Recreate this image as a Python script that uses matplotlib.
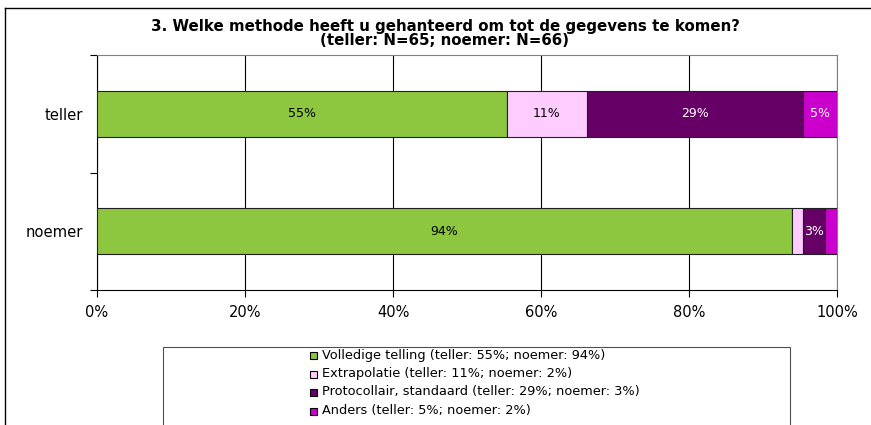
import matplotlib
matplotlib.use("Agg")
import matplotlib.pyplot as plt
from matplotlib.patches import Rectangle
from matplotlib.lines import Line2D

plt.rcParams['font.family'] = ['DejaVu Sans']

categories = ["teller", "noemer"]
series_names = ["Volledige telling", "Extrapolatie", "Protocollair, standaard", "Anders"]
teller_vals = [55.4, 10.8, 29.2, 4.6]
noemer_vals = [93.9, 1.5, 3.0, 1.6]
bar_labels_teller = ["55%", "11%", "29%", "5%"]
bar_labels_noemer = ["94%", "", "3%", ""]
legend_labels = [
    "Volledige telling (teller: 55%; noemer: 94%)",
    "Extrapolatie (teller: 11%; noemer: 2%)",
    "Protocollair, standaard (teller: 29%; noemer: 3%)",
    "Anders (teller: 5%; noemer: 2%)",
]
x_ticks = [0, 20, 40, 60, 80, 100]
x_tick_labels = ["0%", "20%", "40%", "60%", "80%", "100%"]
title_lines = ["3. Welke methode heeft u gehanteerd om tot de gegevens te komen?",
               "(teller: N=65; noemer: N=66)"]

colors = ["#8DC63F", "#FFCCFF", "#660066", "#CC00CC"]
label_colors = ["black", "black", "white", "white"]

W, H = 871, 425
fig = plt.figure(figsize=(W / 100, H / 100), dpi=100)
ax = fig.add_axes([97 / W, 1 - 290 / H, 740 / W, 235 / H])

ypos = [1.5, 0.5]
data = [teller_vals, noemer_vals]
labels = [bar_labels_teller, bar_labels_noemer]
for yi, vals, labs in zip(ypos, data, labels):
    left = 0
    for j, v in enumerate(vals):
        ax.barh(yi, v, left=left, height=0.39, color=colors[j], edgecolor="#202020", linewidth=0.8, zorder=3)
        if labs[j]:
            ax.text(left + v / 2, yi, labs[j], ha="center", va="center", fontsize=9,
                    color=label_colors[j], zorder=4)
        left += v

ax.set_xlim(0, 100)
ax.set_ylim(0, 2)
ax.set_xticks(x_ticks)
ax.set_xticklabels(x_tick_labels, fontsize=10.5)
ax.xaxis.grid(True, color="black", linewidth=0.8, zorder=0)
ax.set_yticks([0, 1, 2])
ax.set_yticklabels([])
ax.set_yticks(ypos, minor=True)
ax.set_yticklabels(categories, minor=True, fontsize=10.6)
ax.tick_params(axis="y", which="minor", length=0, pad=10)
ax.tick_params(axis="y", which="major", length=5, width=0.8, direction="out")
ax.tick_params(axis="x", length=5, width=0.8, direction="out", pad=6)
for s in ["left", "bottom"]:
    ax.spines[s].set_color("black")
    ax.spines[s].set_linewidth(0.8)
for s in ["top", "right"]:
    ax.spines[s].set_color("#808080")
    ax.spines[s].set_linewidth(0.8)
ax.set_axisbelow(True)

fig.text(445 / W, 1 - 27 / H, title_lines[0], ha="center", va="center", fontsize=10.8, fontweight="bold")
fig.text(445 / W, 1 - 40.5 / H, title_lines[1], ha="center", va="center", fontsize=10.8, fontweight="bold")

# outer chart frame
fig.add_artist(Line2D([5 / W, 5 / W], [0, 1 - 8 / H], transform=fig.transFigure, color="black", linewidth=1))
fig.add_artist(Line2D([5 / W, 1], [1 - 8 / H, 1 - 8 / H], transform=fig.transFigure, color="black", linewidth=1))

# legend box
fig.add_artist(Rectangle((163 / W, -0.05), (790 - 163) / W, 0.05 + (425 - 347) / H,
                         transform=fig.transFigure, facecolor="white", edgecolor="#505050",
                         linewidth=0.8, clip_on=False))
for i, (lab, c) in enumerate(zip(legend_labels, colors)):
    yc = 355 + 18.5 * i
    fig.add_artist(Rectangle((310 / W, 1 - (yc + 4) / H), 7 / W, 7 / H, transform=fig.transFigure,
                             facecolor=c, edgecolor="black", linewidth=0.8))
    fig.text(322 / W, 1 - yc / H, lab, ha="left", va="center", fontsize=9.3)

fig.savefig("out.png", dpi=100)
